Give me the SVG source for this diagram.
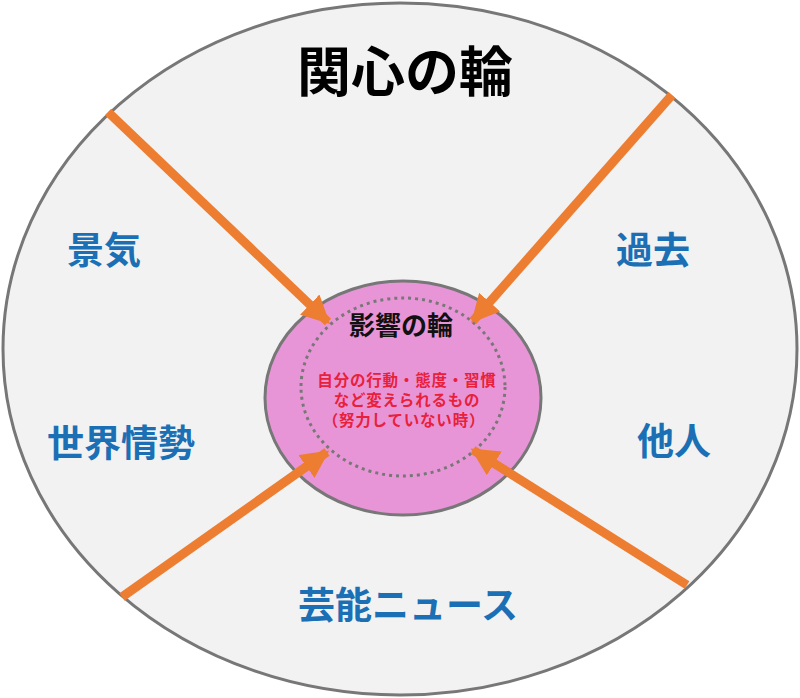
<svg xmlns="http://www.w3.org/2000/svg" width="800" height="698" viewBox="0 0 800 698">
<style>
.blue{font-family:"Noto Sans CJK JP","Noto Sans CJK SC",sans-serif;font-weight:bold;font-size:37px;fill:#1a6fb5;text-anchor:middle}
.arrow{stroke:#ed7d31;stroke-width:9;fill:none}
</style>
<defs>
<marker id="ah" viewBox="0 0 10 10" refX="9" refY="5" markerWidth="28" markerHeight="28" markerUnits="userSpaceOnUse" orient="auto">
<path d="M0,0 L10,5 L0,10 Z" fill="#ed7d31"/>
</marker>
</defs>
<rect width="800" height="698" fill="#ffffff"/>
<g id="outer">
<ellipse cx="400" cy="349" rx="397" ry="346" fill="#f2f2f2" stroke="#777777" stroke-width="3"/>
<text x="405" y="92" font-family="Noto Sans CJK JP, Noto Sans CJK SC, sans-serif" font-weight="bold" font-size="54" fill="#000" text-anchor="middle">関心の輪</text>
</g>
<g id="inner">
<ellipse cx="403" cy="398" rx="138" ry="117" fill="#e895d8" stroke="#777777" stroke-width="3"/>
<ellipse cx="403" cy="387" rx="102" ry="89" fill="none" stroke="#777777" stroke-width="3" stroke-dasharray="3 4"/>
<text x="401" y="335" font-family="Noto Sans CJK JP, Noto Sans CJK SC, sans-serif" font-weight="bold" font-size="26" fill="#111" text-anchor="middle">影響の輪</text>
<g font-family="Noto Sans CJK JP, Noto Sans CJK SC, sans-serif" font-weight="bold" font-size="15.5" letter-spacing="0.8" fill="#e8203a" text-anchor="middle">
<text x="407" y="386">自分の行動・態度・習慣</text>
<text x="407" y="406">など変えられるもの</text>
<text x="404" y="426">（努力していない時）</text>
</g>
</g>
<g id="labels">
<g id="keiki"><text class="blue" x="104" y="264">景気</text></g>
<g id="sekai"><text class="blue" x="121" y="457">世界情勢</text></g>
<g id="kako"><text class="blue" x="653" y="264">過去</text></g>
<g id="tanin"><text class="blue" x="674" y="455">他人</text></g>
<g id="geinou"><text class="blue" x="408" y="619">芸能ニュース</text></g>
</g>
<g id="connectors">
<line class="arrow" x1="108" y1="112" x2="328" y2="322" marker-end="url(#ah)"/>
<line class="arrow" x1="672" y1="95" x2="473" y2="321" marker-end="url(#ah)"/>
<line class="arrow" x1="122" y1="597" x2="327" y2="452" marker-end="url(#ah)"/>
<line class="arrow" x1="687" y1="585" x2="473" y2="450" marker-end="url(#ah)"/>
</g>
</svg>
